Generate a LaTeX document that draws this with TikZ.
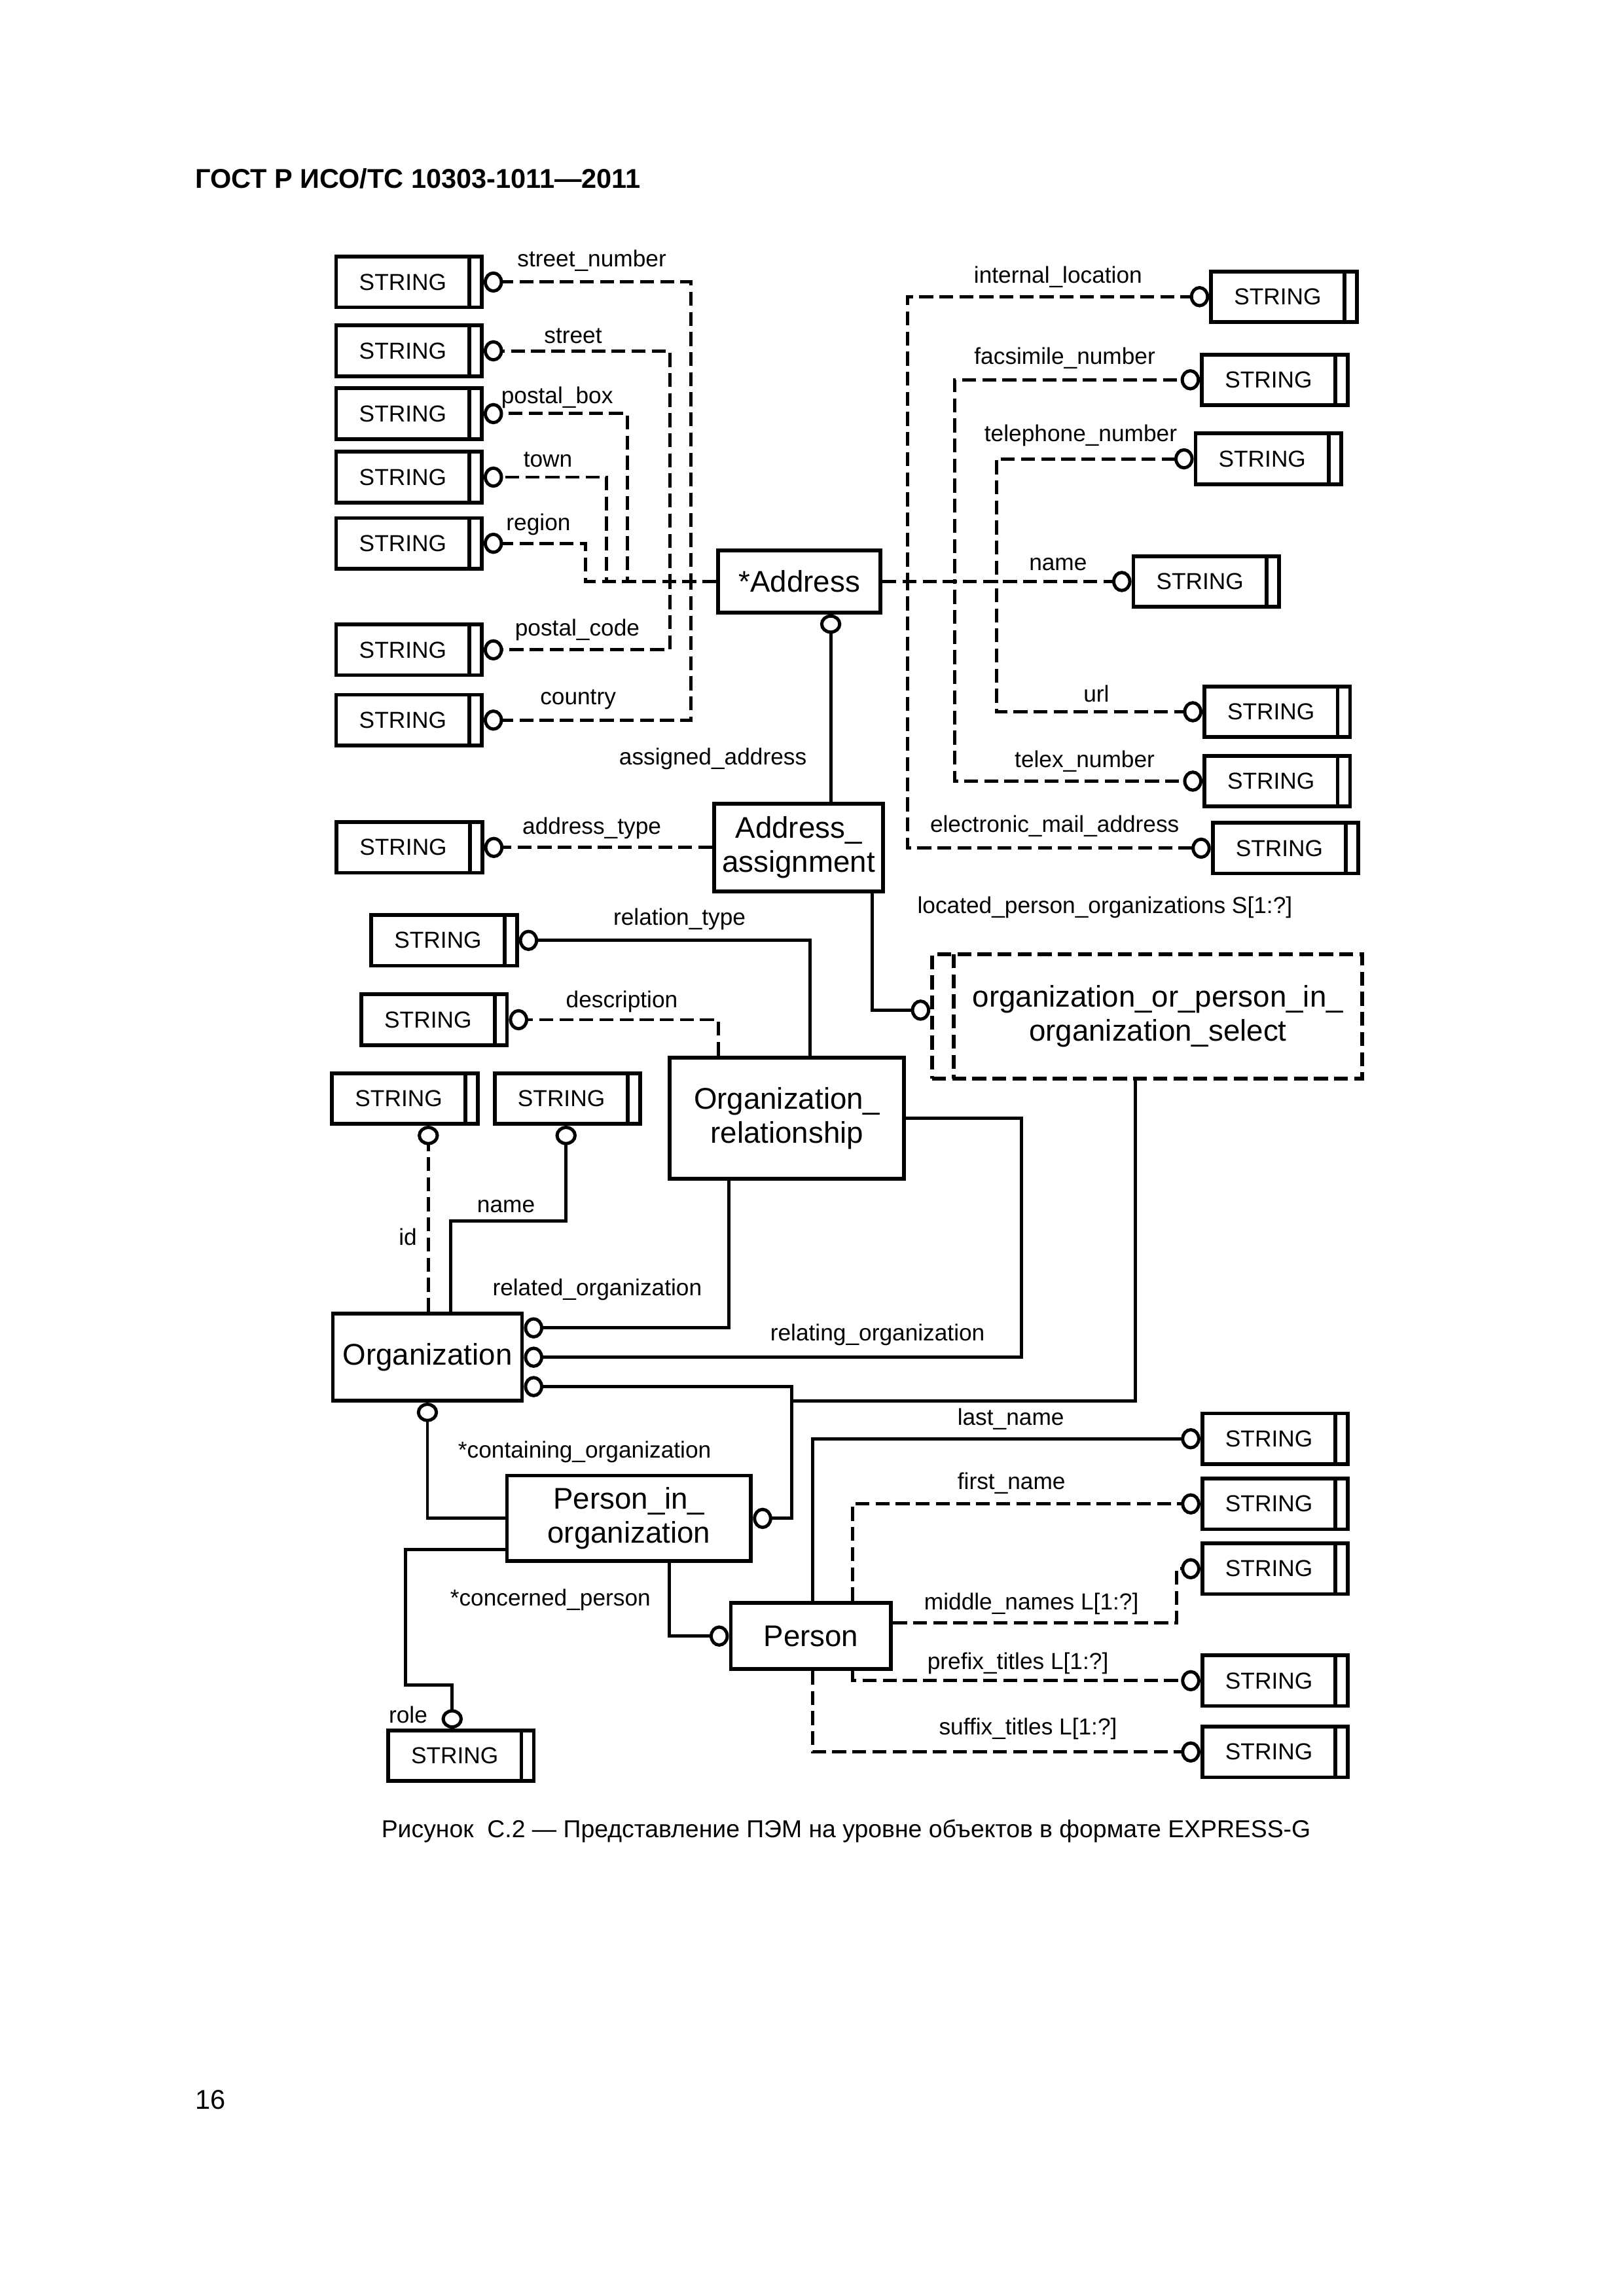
\documentclass[tikz,border=0pt]{standalone}
\usepackage{fontspec}
\setmainfont{Liberation Sans}
\usetikzlibrary{arrows.meta}

\begin{document}
\begin{tikzpicture}[x=0.18936mm, y=-0.18936mm,
		ent/.style={draw, line width=1.4pt, inner sep=0pt, align=center, font=\fontsize{11}{12.5}\selectfont},
		strbox/.style={draw, line width=1.4pt, inner sep=0pt, minimum width=18.84mm, minimum height=6.55mm,
			font=\fontsize{8.5}{10}\selectfont,
			path picture={\draw[line width=1.4pt] ([xshift=-1.6mm]path picture bounding box.north east) -- ([xshift=-1.6mm]path picture bounding box.south east);}},
		selbox/.style={draw, line width=1.4pt, dash pattern=on 1.8mm off 0.8mm, minimum width=55.6mm, minimum height=16.06mm,
			path picture={\draw[line width=1.4pt, dash pattern=on 1.8mm off 0.8mm] ([xshift=2.8mm]path picture bounding box.north west) -- ([xshift=2.8mm]path picture bounding box.south west);}},
		attr/.style={inner sep=0pt, font=\fontsize{8.5}{10}\selectfont},
		mand/.style={line width=1.2pt, -{Circle[open, length=2.5mm, width=2.75mm]}},
		opt/.style={mand, dash pattern=on 1.8mm off 0.8mm}]
	\useasboundingbox (0,0) rectangle (1109,1568.7);

	% 見出し
	\node[anchor=west, inner sep=0pt, font=\bfseries\fontsize{10}{12}\selectfont] (hdr) at (133,122) {ГОСТ Р ИСО/ТС 10303-1011—2011};
	\node[inner sep=0pt, font=\fontsize{9}{11}\selectfont] (cap) at (578,1251) {Рисунок\ \ C.2 — Представление ПЭМ на уровне объектов в формате EXPRESS-G};
	\node[anchor=west, inner sep=0pt, font=\fontsize{10}{12}\selectfont] (pg) at (133,1434.5) {16};

	% 実体を置く
	\node[ent, minimum width=21mm, minimum height=8.03mm] (addr) at (546.1,397.3) {*Address};
	\node[ent, minimum width=21.85mm, minimum height=11.36mm] (asg) at (545.6,579) {Address\_\\assignment};
	\node[ent, minimum width=30.34mm, minimum height=15.72mm] (orel) at (537.6,764) {Organization\_\\relationship};
	\node[ent, minimum width=24.48mm, minimum height=11.27mm] (org) at (292,927.3) {Organization};
	\node[ent, minimum width=31.57mm, minimum height=11.08mm] (pio) at (429.7,1037.4) {Person\_in\_\\organization};
	\node[ent, minimum width=20.74mm, minimum height=8.52mm] (pers) at (554,1117.8) {Person};
	\node[selbox] (sel) at (783.6,694.4) {};
	\node[ent, draw=none] (seltxt) at (791,694.4) {organization\_or\_person\_in\_\\organization\_select};

	% STRING を置く
	\node[strbox] (s1) at (279.4,192.7) {STRING\kern1.6mm};
	\node[strbox] (s2) at (279.4,239.7) {STRING\kern1.6mm};
	\node[strbox] (s3) at (279.4,282.6) {STRING\kern1.6mm};
	\node[strbox] (s4) at (279.4,326) {STRING\kern1.6mm};
	\node[strbox] (s5) at (279.4,371.2) {STRING\kern1.6mm};
	\node[strbox] (s6) at (279.4,444) {STRING\kern1.6mm};
	\node[strbox] (s7) at (279.4,492) {STRING\kern1.6mm};
	\node[strbox] (s8) at (279.7,579) {STRING\kern1.6mm};
	\node[strbox] (s9) at (877.1,202.7) {STRING\kern1.6mm};
	\node[strbox] (s10) at (870.8,259.5) {STRING\kern1.6mm};
	\node[strbox] (s11) at (866.5,313.5) {STRING\kern1.6mm};
	\node[strbox] (s12) at (824,397.3) {STRING\kern1.6mm};
	\node[strbox] (s13) at (872.5,486.3) {STRING\kern1.6mm};
	\node[strbox] (s14) at (872.5,533.7) {STRING\kern1.6mm};
	\node[strbox] (s15) at (878.2,579.5) {STRING\kern1.6mm};
	\node[strbox] (s16) at (303.4,642.5) {STRING\kern1.6mm};
	\node[strbox] (s17) at (296.6,696.7) {STRING\kern1.6mm};
	\node[strbox] (s18) at (276.6,750.6) {STRING\kern1.6mm};
	\node[strbox] (s19) at (387.7,750.6) {STRING\kern1.6mm};
	\node[strbox] (s20) at (871.1,983) {STRING\kern1.6mm};
	\node[strbox] (s21) at (871.1,1027.5) {STRING\kern1.6mm};
	\node[strbox] (s22) at (871.1,1071.8) {STRING\kern1.6mm};
	\node[strbox] (s23) at (871.1,1148.3) {STRING\kern1.6mm};
	\node[strbox] (s24) at (871.1,1197) {STRING\kern1.6mm};
	\node[strbox] (s25) at (314.9,1199.6) {STRING\kern1.6mm};

	% 線を引く
	\draw[opt] (addr.west) -- (addr.west -| 471.8,0) |- (s1.east);
	\draw[opt] (addr.west) -- (addr.west -| 471.8,0) |- (s7.east);
	\draw[opt] (addr.west) -- (addr.west -| 457.5,0) |- (s2.east);
	\draw[opt] (addr.west) -- (addr.west -| 457.5,0) |- (s6.east);
	\draw[opt] (addr.west) -- (addr.west -| 428.4,0) |- (s3.east);
	\draw[opt] (addr.west) -- (addr.west -| 414.3,0) |- (s4.east);
	\draw[opt] (addr.west) -- (addr.west -| 400.1,0) |- (s5.east);
	\draw[opt] (addr.east) -- (addr.east -| 620.1,0) |- (s9.west);
	\draw[opt] (addr.east) -- (addr.east -| 620.1,0) |- (s15.west);
	\draw[opt] (addr.east) -- (addr.east -| 652,0) |- (s10.west);
	\draw[opt] (addr.east) -- (addr.east -| 652,0) |- (s14.west);
	\draw[opt] (addr.east) -- (addr.east -| 680.6,0) |- (s11.west);
	\draw[opt] (addr.east) -- (addr.east -| 680.6,0) |- (s13.west);
	\draw[opt] (addr.east) -- (s12.west);
	\draw[mand] (asg.north -| 567.5,0) -- (addr.south -| 567.5,0);
	\draw[opt] (asg.west) -- (s8.east);
	\draw[mand] (asg.south -| 596,0) |- ([yshift=0.8mm]sel.west);
	\draw[mand] (orel.north -| 553.5,0) |- (s16.east);
	\draw[opt] (orel.north -| 490.7,0) |- (s17.east);
	\draw[opt] (org.north -| 292.6,0) -- (s18.south -| 292.6,0);
	\draw[mand] (org.north -| 308,0) |- (386.7,834.3) -- (s19.south -| 386.7,0);
	\draw[mand] (orel.south -| 497.9,0) |- ([yshift=3.8mm]org.east);
	\draw[mand] (orel.east) -| (org.east -| 698,0) -- (org.east);
	\draw[mand] (sel.south -| 775.5,0) |- (541,957) |- ([yshift=-3.8mm]org.east);
	\draw[mand] (sel.south -| 775.5,0) |- (541,957) |- (pio.east);
	\draw[mand] (pio.west) -| (org.south);
	\draw[mand] ([yshift=-4mm]pio.west) -| (277,1151.4) -| (s25.north -| 308.9,0);
	\draw[mand] (pio.south -| 457.2,0) |- (pers.west);
	\draw[mand] (pers.north -| 555.3,0) |- (s20.west);
	\draw[opt] (pers.north -| 582.3,0) |- (s21.west);
	\draw[opt] ([yshift=1.7mm]pers.east) -| (s22.west -| 803.6,0) -- (s22.west);
	\draw[opt] (pers.south -| 582.3,0) |- (s23.west);
	\draw[opt] (pers.south -| 555.3,0) |- (s24.west);

	% 名前を入れる
	\node[attr] (lstno) at (404.3,178) {street\_number};
	\node[attr] (lstreet) at (391.5,229.4) {street};
	\node[attr] (lpbox) at (380.6,271.4) {postal\_box};
	\node[attr] (ltown) at (374.3,314) {town};
	\node[attr] (lregion) at (367.8,358.2) {region};
	\node[attr] (lpcode) at (394.4,430.2) {postal\_code};
	\node[attr] (lcountry) at (394.9,478) {country};
	\node[attr] (latype) at (404.3,566) {address\_type};
	\node[attr] (lassigned) at (487,518.3) {assigned\_address};
	\node[attr] (linternal) at (722.8,189.2) {internal\_location};
	\node[attr] (lfax) at (727.4,244.9) {facsimile\_number};
	\node[attr] (ltel) at (738.3,297.5) {telephone\_number};
	\node[attr] (laname) at (722.8,385.6) {name};
	\node[attr] (lurl) at (749,474.1) {url};
	\node[attr] (ltelex) at (741,520) {telex\_number};
	\node[attr] (lmail) at (720.5,564.5) {electronic\_mail\_address};
	\node[attr] (llocated) at (754.8,620) {located\_person\_organizations S[1:?]};
	\node[attr] (lreltype) at (464.2,627.9) {relation\_type};
	\node[attr] (ldescr) at (424.8,684.5) {description};
	\node[attr] (loname) at (345.7,824.3) {name};
	\node[attr] (lid) at (278.6,845.2) {id};
	\node[attr] (lrelated) at (408,881.2) {related\_organization};
	\node[attr] (lrelating) at (599.5,912.1) {relating\_organization};
	\node[attr] (lcontain) at (399.4,992) {*containing\_organization};
	\node[attr] (llast) at (690.5,969.5) {last\_name};
	\node[attr] (lfirst) at (691,1013.3) {first\_name};
	\node[attr] (lconcern) at (376,1093) {*concerned\_person};
	\node[attr] (lmiddle) at (704.6,1095.8) {middle\_names L[1:?]};
	\node[attr] (lprefix) at (695.4,1136.5) {prefix\_titles L[1:?]};
	\node[attr] (lsuffix) at (702.3,1181) {suffix\_titles L[1:?]};
	\node[attr] (lrole) at (278.8,1171.7) {role};
\end{tikzpicture}
\end{document}
